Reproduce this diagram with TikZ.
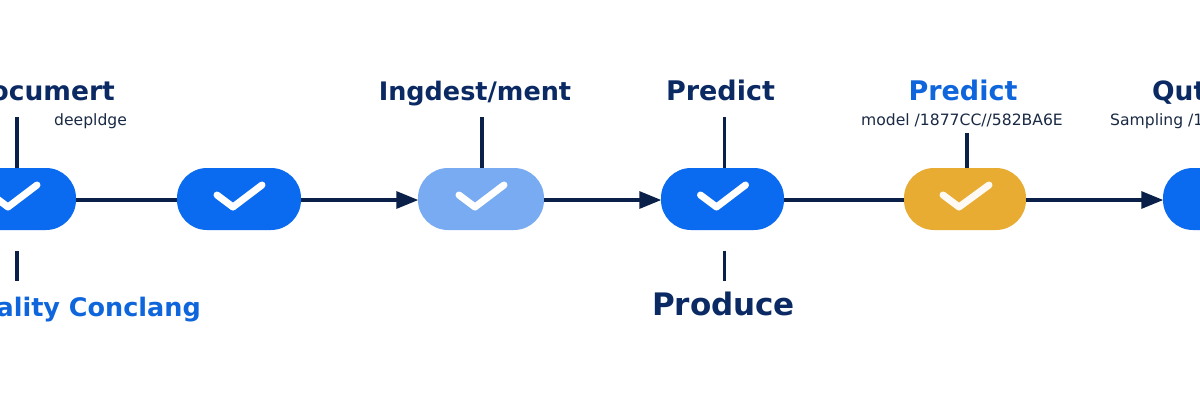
\documentclass[tikz,border=0pt]{standalone}
\usepackage{fontspec}
\setmainfont{DejaVu Sans}
\usetikzlibrary{arrows.meta,calc}
\definecolor{navy}{HTML}{0A2048}
\definecolor{titlenavy}{HTML}{0B2A63}
\definecolor{brightblue}{HTML}{0A6AF0}
\definecolor{paleblue}{HTML}{78ABF2}
\definecolor{amber}{HTML}{E8AC32}
\definecolor{labelblue}{HTML}{0F66DC}
\definecolor{smallink}{HTML}{1A2A44}
\tikzset{
  x=1pt,y=-1pt,
  stage/.style={rectangle,rounded corners=30pt,minimum height=62pt,inner sep=0pt,draw=none},
  wire/.style={draw=navy,line width=3.2pt},
  flow/.style={wire,-{Triangle[length=22pt,width=17pt]},shorten >=-0.5pt},
  tick/.style={draw=white,line width=7pt,line cap=round,line join=round},
  title/.style={inner sep=0pt,text=titlenavy,font=\fontsize{26.5}{30}\selectfont\bfseries},
  accent/.style={title,text=labelblue},
  note/.style={inner sep=0pt,text=smallink,font=\fontsize{15.6}{18}\selectfont},
}
\begin{document}
\begin{tikzpicture}
\useasboundingbox[fill=white] (0,0) rectangle (1200,400);
% stages
\node[stage,fill=brightblue,minimum width=124pt] (n1) at (14,199) {};
\node[stage,fill=brightblue,minimum width=124pt] (n2) at (239,199) {};
\node[stage,fill=paleblue,minimum width=126pt] (n3) at (481,199) {};
\node[stage,fill=brightblue,minimum width=123pt] (n4) at (722.5,199) {};
\node[stage,fill=amber,minimum width=122pt] (n5) at (965,199) {};
\node[stage,fill=brightblue,minimum width=124pt] (n6) at (1225,199) {};
% ticks
\foreach \n in {n1,n2,n3,n4}{
  \draw[tick] ($(\n.center)+(-22,-4)$) -- ($(\n.center)+(-6,8)$) -- ($(\n.center)+(23,-14)$);
}
\draw[tick,draw=white!94!amber] ($(n5.center)+(-22,-4)$) -- ($(n5.center)+(-6,8)$) -- ($(n5.center)+(24,-14)$);
% flow connectors
\draw[wire] ([yshift=-1pt]n1.east) -- ([yshift=-1pt]n2.west);
\draw[flow] ([yshift=-1pt]n2.east) -- ([yshift=-1pt]n3.west);
\draw[flow] ([yshift=-1pt]n3.east) -- ([yshift=-1pt]n4.west);
\draw[wire] ([yshift=-1pt]n4.east) -- ([yshift=-1pt]n5.west);
\draw[flow] ([yshift=-1pt]n5.east) -- ([yshift=-1pt]n6.west);
% titles
\node[title,anchor=base east] (tDoc) at (115,100) {Documert};
\node[note,anchor=base west] (sDoc) at (54,125) {deepldge};
\node[title,font=\fontsize{25.5}{30}\selectfont\bfseries,anchor=base] (tIng) at (475,100) {Ingdest/ment};
\node[title,font=\fontsize{27}{30}\selectfont\bfseries,anchor=base] (tPre) at (720.5,100) {Predict};
\node[accent,font=\fontsize{27}{30}\selectfont\bfseries,anchor=base] (tPre2) at (963,100) {Predict};
\node[note,anchor=base] (sPre2) at (962,125) {model /1877CC//582BA6E};
\node[title,anchor=base west] (tOut) at (1152,100) {Quti};
\node[note,anchor=base west] (sOut) at (1110,125) {Sampling /1877CC};
\node[title,font=\fontsize{31}{34}\selectfont\bfseries,anchor=base] (tPro) at (723.5,315) {Produce};
\node[accent,font=\fontsize{25.5}{30}\selectfont\bfseries,anchor=base east] (tQua) at (201,316) {Quality Conclang};
% vertical connectors
\coordinate (u1) at (17,117);
\coordinate (u3) at (482,117);
\coordinate (u4) at (724.5,117);
\coordinate (u5) at (967,133);
\coordinate (la) at (17,251);
\coordinate (lb) at (17,281);
\coordinate (lc) at (724.5,251);
\coordinate (ld) at (724.5,281);
\draw[wire] (u1) -- (u1 |- n1.north);
\draw[wire] (u3) -- (u3 |- n3.north);
\draw[wire] (u4) -- (u4 |- n4.north);
\draw[wire] (u5) -- (u5 |- n5.north);
\draw[wire] (la) -- (lb);
\draw[wire] (lc) -- (ld);
\end{tikzpicture}
\end{document}
